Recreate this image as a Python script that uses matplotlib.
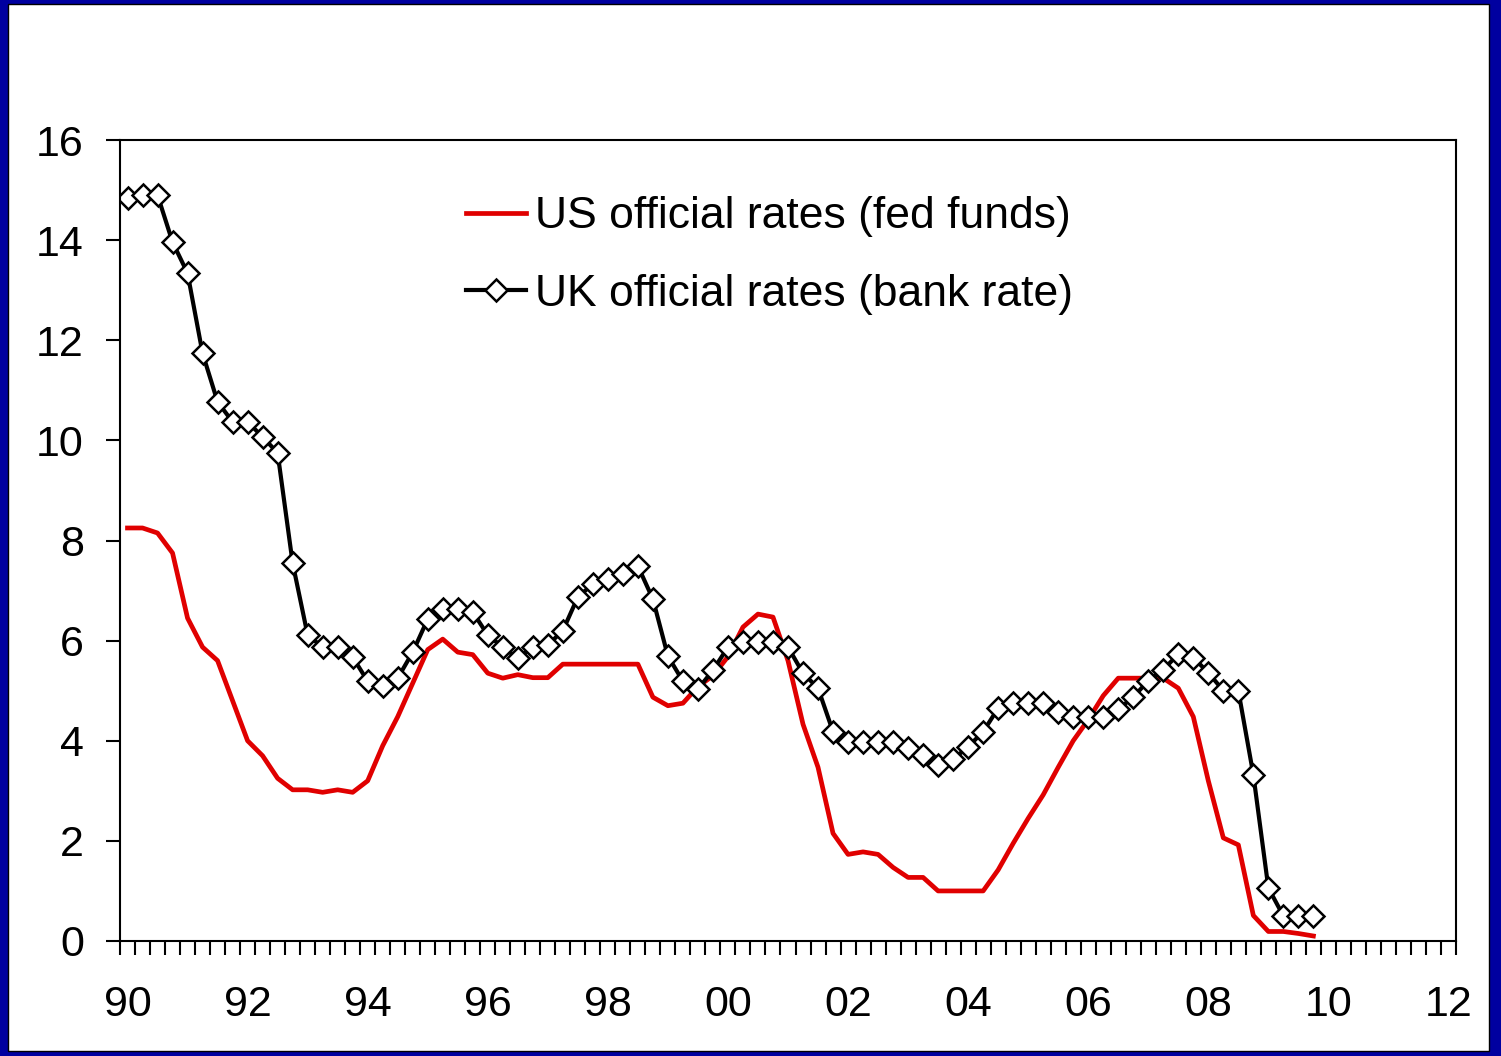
import matplotlib.pyplot as plt
from matplotlib.patches import Rectangle

# quarterly data, 1990 Q1 .. 2009 Q4
year_labels = ["90", "92", "94", "96", "98", "00", "02", "04", "06", "08", "10", "12"]

us_rate = [8.25, 8.25, 8.15, 7.75, 6.45, 5.87, 5.6, 4.8, 4.0, 3.7,
           3.25, 3.02, 3.02, 2.97, 3.02, 2.97, 3.2, 3.9, 4.48, 5.15,
           5.82, 6.03, 5.77, 5.72, 5.35, 5.25, 5.32, 5.26, 5.26, 5.53,
           5.53, 5.53, 5.53, 5.53, 5.53, 4.87, 4.7, 4.75, 5.08, 5.3,
           5.68, 6.27, 6.53, 6.47, 5.6, 4.33, 3.47, 2.15, 1.73, 1.78,
           1.73, 1.47, 1.27, 1.27, 1.0, 1.0, 1.0, 1.0, 1.42, 1.95,
           2.45, 2.92, 3.47, 4.0, 4.42, 4.9, 5.25, 5.25, 5.25, 5.25,
           5.05, 4.48, 3.2, 2.06, 1.92, 0.51, 0.19, 0.19, 0.15, 0.1]

uk_rate = [14.85, 14.9, 14.9, 13.96, 13.34, 11.74, 10.77, 10.37, 10.37, 10.07,
           9.75, 7.55, 6.11, 5.87, 5.87, 5.67, 5.19, 5.09, 5.25, 5.77,
           6.43, 6.63, 6.63, 6.57, 6.11, 5.87, 5.65, 5.87, 5.91, 6.2,
           6.87, 7.13, 7.23, 7.33, 7.49, 6.83, 5.69, 5.19, 5.03, 5.41,
           5.87, 5.97, 5.97, 5.97, 5.87, 5.35, 5.05, 4.18, 3.98, 3.98,
           3.98, 3.98, 3.85, 3.72, 3.52, 3.63, 3.88, 4.18, 4.65, 4.75,
           4.75, 4.75, 4.57, 4.48, 4.48, 4.48, 4.63, 4.87, 5.2, 5.42,
           5.73, 5.66, 5.36, 5.0, 5.0, 3.32, 1.06, 0.5, 0.5, 0.5]

W, H = 1501, 1056
fig = plt.figure(figsize=(W / 100, H / 100), dpi=100, facecolor="#0000A0")

# white slide area inside the blue frame
fig.patches.append(Rectangle((8 / W, 5 / H), 1481 / W, 1047 / H,
                             transform=fig.transFigure, facecolor="white",
                             edgecolor="black", linewidth=1, zorder=-1))

ax = fig.add_axes([120 / W, 115 / H, 1336 / W, 801 / H])

q = list(range(len(uk_rate)))
ax.plot(q, us_rate, color="#E00000", linewidth=3.4,
        label="US official rates (fed funds)")
ax.plot(q, uk_rate, color="black", linewidth=3, marker="D", markersize=11,
        markerfacecolor="white", markeredgecolor="black", markeredgewidth=1.8,
        label="UK official rates (bank rate)")

ax.set_xlim(-0.5, 88.5)
ax.set_ylim(0, 16)
ax.set_yticks(range(0, 17, 2))
ax.set_xticks(range(0, 89, 8))
ax.set_xticklabels(year_labels)
ax.set_xticks([k - 0.5 for k in range(90)], minor=True)

tick_font = ["Liberation Sans", "DejaVu Sans"]
ax.tick_params(axis="x", which="major", length=0, pad=32, labelsize=31)
ax.tick_params(axis="x", which="minor", length=10, width=1.5, direction="out")
ax.tick_params(axis="y", which="major", length=10, width=1.5, direction="out",
               pad=16, labelsize=31)
for lab in ax.get_xticklabels() + ax.get_yticklabels():
    lab.set_family(tick_font)

for s in ax.spines.values():
    s.set_linewidth(1.5)
    s.set_color("black")

ax.legend(loc="upper left", bbox_to_anchor=(0.259, 0.93), frameon=False,
          prop={"family": ["Liberation Sans"], "size": 32},
          handlelength=1.36, handletextpad=0.2, labelspacing=0.82,
          borderpad=0, borderaxespad=0)

fig.savefig("out.png", dpi=100, facecolor=fig.get_facecolor())
